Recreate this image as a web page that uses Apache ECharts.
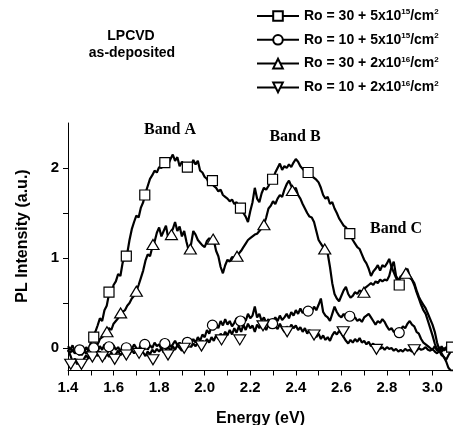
<!DOCTYPE html>
<html>
<head>
<meta charset="utf-8">
<script src="https://cdn.jsdelivr.net/npm/echarts@6/dist/echarts.min.js"></script>
<style>
html,body{margin:0;padding:0;background:#fff;}
#chart{width:453px;height:425px;}
</style>
</head>
<body>
<div id="chart"></div>
<script>
// ---- data ----
const ENERGY_START = 1.40;
const ENERGY_STEP = 0.01;

const seriesNames = [
  "Ro = 30 + 5x10^15/cm^2",
  "Ro = 10 + 5x10^15/cm^2",
  "Ro = 30 + 2x10^16/cm^2",
  "Ro = 10 + 2x10^16/cm^2"
];

// Ro = 30 + 5x10^15 (squares)
const plSq = [
  -0.03,-0.05,-0.02,-0.06,-0.04,-0.08,-0.03,-0.05,0.00,-0.02,
  0.06,0.12,0.18,0.25,0.33,0.30,0.42,0.47,0.60,0.58,
  0.70,0.74,0.82,0.80,0.95,1.00,1.05,1.20,1.32,1.40,
  1.47,1.45,1.56,1.62,1.72,1.80,1.88,1.92,1.97,1.95,
  2.01,2.00,2.05,2.07,2.04,2.10,2.15,2.08,2.12,2.02,
  2.07,2.03,2.00,2.06,2.01,2.09,2.04,2.08,1.97,1.95,
  1.90,1.88,1.82,1.86,1.80,1.78,1.74,1.76,1.70,1.68,
  1.66,1.63,1.65,1.60,1.62,1.56,1.55,1.50,1.46,1.40,
  1.52,1.62,1.78,1.66,1.62,1.72,1.78,1.76,1.80,1.86,
  1.88,1.95,2.00,2.05,1.98,2.02,2.00,2.04,2.01,2.06,
  2.10,2.07,2.02,1.99,1.96,1.95,1.97,1.91,1.89,1.87,
  1.84,1.78,1.70,1.66,1.68,1.60,1.62,1.55,1.50,1.44,
  1.40,1.36,1.34,1.30,1.25,1.20,1.16,1.12,1.10,1.04,
  0.98,0.94,0.88,0.80,0.85,0.88,0.92,0.86,0.92,0.90,
  0.94,0.99,0.90,0.84,0.78,0.72,0.80,0.78,0.86,0.88,
  0.80,0.76,0.70,0.62,0.55,0.48,0.42,0.38,0.30,0.22,
  0.14,0.05,-0.02,-0.04,0.02,-0.03,0.01,-0.02,0.00,0.01
];
// Ro = 10 + 5x10^15 (circles)
const plCirc = [
  0.02,-0.02,0.03,-0.04,0.00,-0.02,0.02,-0.05,0.01,-0.03,
  0.02,-0.01,0.03,-0.04,0.02,-0.02,0.04,0.00,0.02,-0.03,
  0.03,-0.02,0.01,-0.04,0.02,0.00,-0.03,0.03,-0.01,0.04,
  0.00,-0.03,0.05,0.01,0.04,-0.02,0.03,0.00,0.06,0.02,
  0.04,-0.01,0.05,0.02,0.07,0.01,0.04,0.08,0.03,0.06,
  0.02,0.07,0.05,0.09,0.04,0.10,0.06,0.12,0.08,0.15,
  0.12,0.20,0.16,0.24,0.20,0.27,0.22,0.30,0.25,0.32,
  0.26,0.30,0.24,0.28,0.33,0.30,0.26,0.34,0.30,0.38,
  0.33,0.36,0.46,0.34,0.38,0.30,0.34,0.28,0.32,0.27,
  0.30,0.34,0.30,0.36,0.31,0.34,0.38,0.33,0.40,0.36,
  0.42,0.38,0.44,0.39,0.41,0.40,0.44,0.40,0.46,0.42,
  0.48,0.55,0.40,0.36,0.34,0.30,0.38,0.46,0.40,0.36,
  0.34,0.38,0.33,0.36,0.35,0.32,0.34,0.30,0.32,0.29,
  0.34,0.36,0.38,0.34,0.30,0.26,0.30,0.28,0.32,0.29,
  0.24,0.20,0.22,0.18,0.17,0.18,0.20,0.24,0.22,0.27,
  0.30,0.26,0.24,0.18,0.16,0.10,0.06,0.04,0.02,0.00,
  -0.02,0.02,-0.03,0.01,-0.04,0.00,-0.02,0.02,-0.01,0.00
];
// Ro = 30 + 2x10^16 (up triangles)
const plTri = [
  -0.02,0.00,-0.04,-0.01,-0.06,-0.03,-0.08,-0.04,-0.06,-0.02,
  0.00,0.02,0.05,0.04,0.10,0.12,0.14,0.18,0.22,0.20,
  0.27,0.30,0.33,0.38,0.40,0.42,0.47,0.50,0.55,0.58,
  0.63,0.70,0.78,0.86,0.97,1.04,1.02,1.12,1.18,1.28,
  1.34,1.24,1.30,1.36,1.22,1.28,1.32,1.40,1.30,1.35,
  1.24,1.30,1.18,1.08,1.15,1.30,1.26,1.20,1.17,1.14,
  1.12,1.19,1.22,1.18,1.20,1.08,1.02,0.90,0.83,0.92,
  0.98,0.96,1.01,1.00,1.03,1.05,1.08,1.12,1.16,1.20,
  1.22,1.24,1.26,1.27,1.30,1.33,1.37,1.45,1.55,1.58,
  1.63,1.60,1.66,1.70,1.68,1.76,1.82,1.86,1.80,1.76,
  1.78,1.70,1.66,1.60,1.55,1.50,1.46,1.45,1.40,1.30,
  1.20,1.16,1.12,1.10,1.05,0.90,0.72,0.60,0.55,0.52,
  0.58,0.64,0.68,0.60,0.56,0.58,0.62,0.60,0.64,0.62,
  0.66,0.68,0.70,0.72,0.70,0.74,0.72,0.76,0.74,0.76,
  0.75,0.80,0.90,0.96,0.80,0.76,0.78,0.82,0.84,0.80,
  0.78,0.76,0.72,0.64,0.57,0.52,0.48,0.44,0.38,0.32,
  0.26,0.18,0.06,-0.02,-0.06,-0.10,-0.15,-0.22,-0.25,-0.25
];
// Ro = 10 + 2x10^16 (down triangles)
const plDtri = [
  -0.02,-0.08,-0.15,-0.12,-0.18,-0.14,-0.19,-0.12,-0.08,-0.12,
  -0.06,-0.10,-0.05,-0.09,-0.04,-0.08,-0.12,-0.06,-0.10,-0.05,
  -0.11,-0.07,-0.03,-0.08,-0.05,-0.09,-0.04,-0.07,-0.02,-0.06,
  -0.03,-0.07,-0.02,-0.05,-0.09,-0.04,-0.07,-0.02,-0.05,-0.01,
  -0.04,0.00,-0.05,-0.02,0.01,-0.03,0.02,-0.02,0.03,0.00,
  -0.03,0.02,0.00,0.04,0.01,0.05,0.02,0.06,0.03,0.08,
  0.05,0.10,0.06,0.12,0.08,0.14,0.10,0.16,0.12,0.18,
  0.14,0.20,0.15,0.22,0.17,0.24,0.18,0.26,0.20,0.27,
  0.22,0.25,0.18,0.26,0.22,0.28,0.24,0.20,0.26,0.22,
  0.28,0.24,0.21,0.27,0.22,0.18,0.24,0.20,0.26,0.22,
  0.25,0.20,0.23,0.18,0.22,0.16,0.20,0.15,0.18,0.12,
  0.16,0.10,0.14,0.09,0.12,0.08,0.14,0.18,0.15,0.19,
  0.16,0.12,0.08,0.05,0.09,0.06,0.10,0.07,0.11,0.06,
  0.08,0.04,0.07,0.02,0.05,0.00,0.02,-0.01,0.01,-0.02,
  0.01,-0.01,0.00,-0.03,-0.01,-0.04,-0.02,-0.04,-0.01,-0.03,
  -0.02,-0.04,-0.02,-0.03,0.00,-0.02,-0.01,0.01,-0.02,-0.03,
  -0.01,-0.04,-0.06,-0.03,-0.08,-0.10,-0.13,-0.08,-0.04,-0.02
];

// marker positions (energy, intensity)
const markSqE   = [1.513,1.58,1.656,1.737,1.825,1.924,2.034,2.157,2.298,2.454,2.637,2.854,3.084];
const markSqI   = [0.12,0.62,1.02,1.70,2.06,2.01,1.86,1.555,1.875,1.95,1.27,0.70,0.01];
const markCircE = [1.451,1.513,1.58,1.656,1.737,1.825,1.924,2.034,2.157,2.298,2.454,2.637,2.854];
const markCircI = [-0.02,0.00,0.014,0.003,0.04,0.05,0.063,0.254,0.30,0.27,0.41,0.353,0.17];
const markTriE  = [1.571,1.631,1.70,1.773,1.854,1.937,2.037,2.142,2.26,2.385,2.527,2.699,2.883];
const markTriI  = [0.18,0.39,0.63,1.15,1.26,1.10,1.21,1.02,1.37,1.75,1.10,0.62,0.83];
const markDtriE = [1.412,1.459,1.507,1.551,1.605,1.656,1.712,1.773,1.839,1.91,1.986,2.074,2.154,2.256,2.362,2.48,2.608,2.754,2.92];
const markDtriI = [-0.18,-0.18,-0.10,-0.10,-0.125,-0.077,-0.06,-0.13,-0.077,-0.003,0.022,0.09,0.09,0.246,0.18,0.144,0.18,-0.015,-0.02];

const xTickValues  = [1.4,1.5,1.6,1.7,1.8,1.9,2.0,2.1,2.2,2.3,2.4,2.5,2.6,2.7,2.8,2.9,3.0];
const xLabelValues = [1.4,1.6,1.8,2.0,2.2,2.4,2.6,2.8,3.0];
const yTickValues  = [0,0.5,1,1.5,2];
const yLabelValues = [0,1,2];

// ---- build ----
function pairs(arr) {
  return arr.map((v, i) => [+(ENERGY_START + i * ENERGY_STEP).toFixed(2), v]);
}
function zip(xs, ys) { return xs.map((x, i) => [x, ys[i]]); }

const DOWN_TRI = 'path://M0,0L12,0L6,10Z';
const symbols = ['rect', 'circle', 'triangle', DOWN_TRI];
const symSizes = [10, 10, [12, 10], [12, 10]];
const lineData = [plSq, plCirc, plTri, plDtri];
const markE = [markSqE, markCircE, markTriE, markDtriE];
const markI = [markSqI, markCircI, markTriI, markDtriI];

const series = [];
for (let k = 0; k < 4; k++) {
  series.push({
    name: seriesNames[k],
    type: 'line',
    data: pairs(lineData[k]),
    symbol: symbols[k],
    symbolSize: symSizes[k],
    showSymbol: false,
    lineStyle: { color: '#000', width: 2.2 },
    itemStyle: { color: '#fff', borderColor: '#000', borderWidth: 1.2 },
    animation: false,
    z: 2
  });
}
for (let k = 0; k < 4; k++) {
  series.push({
    name: 'm' + k,
    type: 'scatter',
    data: zip(markE[k], markI[k]),
    symbol: symbols[k],
    symbolSize: symSizes[k],
    itemStyle: { color: '#fff', borderColor: '#000', borderWidth: 1.2, opacity: 1 },
    animation: false,
    z: 5
  });
}

function richName(n) {
  return n.replace(/\^(\d+)/g, '{sup|$1}');
}

const FONT = 'Liberation Sans, Arial, sans-serif';
const chart = echarts.init(document.getElementById('chart'), null, { renderer: 'canvas' });
chart.setOption({
  backgroundColor: '#fff',
  animation: false,
  grid: { left: 68, top: 123, width: 385, height: 247.5, containLabel: false, outerBoundsMode: 'none' },
  legend: {
    data: seriesNames,
    orient: 'vertical',
    left: 251,
    top: 3,
    itemWidth: 42,
    itemHeight: 12,
    itemGap: 8.8,
    formatter: richName,
    textStyle: {
      fontFamily: FONT,
      fontWeight: 'bold',
      fontSize: 14,
      color: '#000',
      rich: {
        sup: { fontSize: 8, fontWeight: 'bold', verticalAlign: 'top', padding: [0, 0, 8, 0], fontFamily: FONT }
      }
    }
  },
  xAxis: {
    type: 'value',
    min: 1.4,
    max: 3.09,
    name: 'Energy (eV)',
    nameLocation: 'middle',
    nameGap: 40,
    nameTextStyle: { fontFamily: FONT, fontWeight: 'bold', fontSize: 16, color: '#000' },
    axisLine: { show: true, onZero: false, lineStyle: { color: '#000', width: 1 } },
    axisTick: { show: true, inside: false, length: 5, customValues: xTickValues, lineStyle: { color: '#000' } },
    axisLabel: {
      customValues: xLabelValues,
      formatter: v => v.toFixed(1),
      margin: 10,
      fontFamily: FONT, fontWeight: 'bold', fontSize: 15, color: '#000'
    },
    splitLine: { show: false }
  },
  yAxis: {
    type: 'value',
    min: -0.25,
    max: 2.5,
    axisLine: { show: true, onZero: false, lineStyle: { color: '#000', width: 1 } },
    axisTick: { show: true, inside: false, length: 5, customValues: yTickValues, lineStyle: { color: '#000' } },
    axisLabel: {
      customValues: yLabelValues,
      margin: 9,
      fontFamily: FONT, fontWeight: 'bold', fontSize: 15, color: '#000'
    },
    splitLine: { show: false }
  },
  graphic: [
    { type: 'text', x: 23, y: 236, rotation: Math.PI / 2, style: { text: 'PL Intensity (a.u.)', align: 'center', verticalAlign: 'middle', font: 'bold 16px "Liberation Sans", Arial, sans-serif', fill: '#000' } },
    { type: 'text', x: 131, y: 36, style: { text: 'LPCVD', align: 'center', verticalAlign: 'middle', font: 'bold 14px "Liberation Sans", Arial, sans-serif', fill: '#000' } },
    { type: 'text', x: 132, y: 53, style: { text: 'as-deposited', align: 'center', verticalAlign: 'middle', font: 'bold 14px "Liberation Sans", Arial, sans-serif', fill: '#000' } },
    { type: 'text', x: 170, y: 130, style: { text: 'Band A', align: 'center', verticalAlign: 'middle', font: 'bold 16px "Liberation Serif", "Times New Roman", serif', fill: '#000' } },
    { type: 'text', x: 295, y: 137, style: { text: 'Band B', align: 'center', verticalAlign: 'middle', font: 'bold 16px "Liberation Serif", "Times New Roman", serif', fill: '#000' } },
    { type: 'text', x: 396, y: 229, style: { text: 'Band C', align: 'center', verticalAlign: 'middle', font: 'bold 16px "Liberation Serif", "Times New Roman", serif', fill: '#000' } }
  ],
  series: series
});
</script>
</body>
</html>
